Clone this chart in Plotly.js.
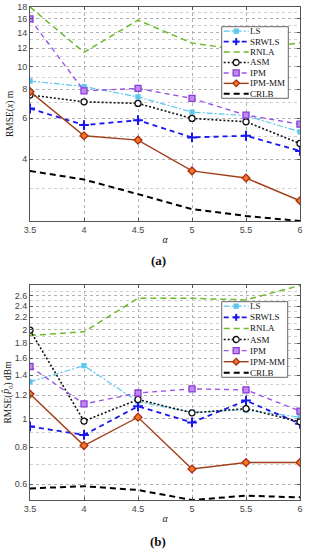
<!DOCTYPE html>
<html><head><meta charset="utf-8">
<script src="https://cdn.plot.ly/plotly-3.0.1.min.js"></script>
<style>html,body{margin:0;padding:0;background:#fff}#chart{width:309px;height:550px}</style>
</head><body><div id="chart"></div>
<script>
// ---- data ----
const alpha = [3.5, 4, 4.5, 5, 5.5, 6];
const seriesNames = ['LS', 'SRWLS', 'RNLA', 'ASM', 'IPM', 'IPM-MM', 'CRLB'];

// (a) RMSE(x) in m
const lsA     = [8.66, 8.2, 7.4, 6.37, 6.15, 5.24];
const srwlsA  = [6.6, 5.6, 5.88, 4.96, 5.04, 4.34];
const rnlaA   = [18.0, 11.5, 15.8, 12.6, 11.7, 12.65];
const asmA    = [7.54, 7.05, 6.94, 5.98, 5.79, 4.67];
const ipmA    = [16.0, 7.86, 8.05, 7.29, 6.18, 5.65];
const ipmmmA  = [7.8, 5.04, 4.83, 3.56, 3.32, 2.65];
const crlbA   = [3.56, 3.27, 2.83, 2.44, 2.28, 2.17];

// (b) RMSE(P0) in dBm
const lsB     = [1.33, 1.51, 1.14, 1.05, 1.07, 1.01];
const srwlsB  = [0.94, 0.88, 1.10, 0.97, 1.15, 0.96];
const rnlaB   = [1.91, 1.965, 2.55, 2.55, 2.52, 2.82];
const asmB    = [1.99, 0.98, 1.16, 1.045, 1.08, 0.975];
const ipmB    = [1.50, 1.12, 1.22, 1.26, 1.25, 1.06];
const ipmmmB  = [1.21, 0.81, 1.01, 0.675, 0.71, 0.71];
const crlbB   = [0.58, 0.59, 0.573, 0.53, 0.548, 0.541];

// axis ticks
const xTicks = [3.5, 4, 4.5, 5, 5.5, 6];
const yTicksA = [4, 6, 8, 10, 12, 14, 16, 18];
const yMinorA = [3, 5, 7, 9, 11, 13, 15, 17];
const yTicksB = [0.6, 0.8, 1, 1.2, 1.4, 1.6, 1.8, 2, 2.2, 2.4, 2.6];
const yMinorB = [0.7, 0.9, 1.1, 1.3, 1.5, 1.7, 1.9, 2.1, 2.3, 2.5, 2.7];
const yRangeA = [2.17, 18];
const yRangeB = [0.53, 2.83];

const dataA = [lsA, srwlsA, rnlaA, asmA, ipmA, ipmmmA, crlbA];
const dataB = [lsB, srwlsB, rnlaB, asmB, ipmB, ipmmmB, crlbB];

// ---- styles ----
const styles = {
  'LS':     {color:'#5cc8ee', width:1.2, dash:'6px,2px,2px,2px', symbol:'square', msize:4, mcolor:'#5cc8ee', mline:'#5cc8ee'},
  'SRWLS':  {color:'#1818ee', width:1.8, dash:'5px,4px', symbol:'cross-thin-open', msize:7, mcolor:'#1818ee', mline:'#1818ee'},
  'RNLA':   {color:'#6cbb2a', width:1.5, dash:'6px,4px', symbol:null},
  'ASM':    {color:'#111111', width:1.6, dash:'2px,2px', symbol:'circle', msize:6, mcolor:'#ffffff', mline:'#111111'},
  'IPM':    {color:'#9b55e6', width:1.4, dash:'5px,4px', symbol:'square', msize:6, mcolor:'#c08af2', mline:'#8a3cd6'},
  'IPM-MM': {color:'#a0401a', width:1.4, dash:'solid', symbol:'diamond', msize:6, mcolor:'#ee7a2a', mline:'#b02a10'},
  'CRLB':   {color:'#000000', width:2, dash:'6px,4px', symbol:null}
};

const W = 309, H = 550, ML = 30, MR = 9, MT = 7, MB = 50;
const pw = W - ML - MR, ph = H - MT - MB;
const px2x = p => (p - ML) / pw;
const py2y = p => (H - MB - p) / ph;

function makeTraces(sets, xa, ya) {
  return seriesNames.map((n, i) => {
    const s = styles[n];
    const t = {
      x: alpha, y: sets[i], xaxis: xa, yaxis: ya, name: n, showlegend: false,
      type: 'scatter', mode: s.symbol ? 'lines+markers' : 'lines',
      line: {color: s.color, width: s.width, dash: s.dash}, hoverinfo: 'skip'
    };
    if (s.symbol) t.marker = {symbol: s.symbol, size: s.msize, color: s.mcolor, line: {color: s.mline, width: s.symbol === 'cross-thin-open' ? 2 : 1.3}};
    return t;
  });
}

const traces = makeTraces(dataA, 'x', 'y').concat(makeTraces(dataB, 'x2', 'y2'));

const tickFont = {family: 'Liberation Sans, Arial, sans-serif', size: 9, color: '#444'};
const serif = 'Liberation Serif, Times New Roman, serif';

function xAxis(anchor) {
  return {
    anchor: anchor, range: [3.5, 6], tickvals: xTicks, ticktext: xTicks.map(String),
    showline: true, mirror: 'ticks', linecolor: '#555', linewidth: 1,
    ticks: 'inside', ticklen: 3, tickcolor: '#555',
    showgrid: true, gridcolor: '#b0b0b0', griddash: 'dot', gridwidth: 1,
    zeroline: false, tickfont: tickFont,
    title: {text: '<i>α</i>', font: {family: serif, size: 10, color: '#222'}, standoff: 2}
  };
}
function yAxis(anchor, domain, range, ticks, minor, title) {
  return {
    anchor: anchor, domain: domain, type: 'log',
    range: [Math.log10(range[0]), Math.log10(range[1])],
    tickvals: ticks, ticktext: ticks.map(String),
    showline: true, mirror: 'ticks', linecolor: '#555', linewidth: 1,
    ticks: 'inside', ticklen: 3, tickcolor: '#555',
    showgrid: true, gridcolor: '#b0b0b0', griddash: 'dot', gridwidth: 1,
    minor: {tickvals: minor, showgrid: true, gridcolor: '#cfcfcf', griddash: 'dot', gridwidth: 1, ticks: ''},
    zeroline: false, tickfont: tickFont,
    title: {text: title, font: {family: serif, size: 9.5, color: '#222'}, standoff: 1}
  };
}

const shapes = [];
const annotations = [];

function drawLegend(topPx, leftPx, rightPx, bottomPx) {
  shapes.push({type: 'rect', xref: 'paper', yref: 'paper', layer: 'above',
    x0: px2x(leftPx), x1: px2x(rightPx), y0: py2y(bottomPx), y1: py2y(topPx),
    line: {color: '#666', width: 1}, fillcolor: '#ffffff'});
  const step = (bottomPx - topPx - 9) / (seriesNames.length - 1);
  seriesNames.forEach((n, i) => {
    const s = styles[n];
    const cy = topPx + 4.5 + i * step;
    const x0 = leftPx + 2, x1 = leftPx + 27, cx = (x0 + x1) / 2;
    shapes.push({type: 'line', xref: 'paper', yref: 'paper', layer: 'above',
      x0: px2x(x0), x1: px2x(x1), y0: py2y(cy), y1: py2y(cy),
      line: {color: s.color, width: s.width, dash: s.dash}});
    if (s.symbol) {
      const r = s.msize / 2;
      const mk = {xref: 'paper', yref: 'paper', layer: 'above', fillcolor: s.mcolor,
        line: {color: s.mline, width: 1.3}};
      if (s.symbol === 'square') {
        shapes.push(Object.assign({type: 'rect', x0: px2x(cx - r), x1: px2x(cx + r), y0: py2y(cy + r), y1: py2y(cy - r)}, mk));
      } else if (s.symbol === 'circle') {
        shapes.push(Object.assign({type: 'circle', x0: px2x(cx - r), x1: px2x(cx + r), y0: py2y(cy + r), y1: py2y(cy - r)}, mk));
      } else if (s.symbol === 'diamond') {
        const rr = r * 1.1;
        const p = 'M' + px2x(cx) + ',' + py2y(cy - rr) + ' L' + px2x(cx + rr) + ',' + py2y(cy) +
          ' L' + px2x(cx) + ',' + py2y(cy + rr) + ' L' + px2x(cx - rr) + ',' + py2y(cy) + ' Z';
        shapes.push(Object.assign({type: 'path', path: p}, mk));
      } else {
        const ln = {color: s.mline, width: 2};
        shapes.push({type: 'line', xref: 'paper', yref: 'paper', layer: 'above', x0: px2x(cx - r), x1: px2x(cx + r), y0: py2y(cy), y1: py2y(cy), line: ln});
        shapes.push({type: 'line', xref: 'paper', yref: 'paper', layer: 'above', x0: px2x(cx), x1: px2x(cx), y0: py2y(cy - r), y1: py2y(cy + r), line: ln});
      }
    }
    annotations.push({text: n, xref: 'paper', yref: 'paper', x: px2x(x1 + 0.5), y: py2y(cy),
      xanchor: 'left', yanchor: 'middle', showarrow: false, borderpad: 0,
      font: {family: serif, size: 9, color: '#111'}});
  });
}

drawLegend(26.7, 221.7, 288.3, 98.3);
drawLegend(301.7, 221.7, 287.7, 377.3);

annotations.push({text: '<b>(a)</b>', xref: 'paper', yref: 'paper', x: px2x(158.5), y: py2y(260),
  xanchor: 'center', yanchor: 'middle', showarrow: false, font: {family: serif, size: 13, color: '#111'}});
annotations.push({text: '<b>(b)</b>', xref: 'paper', yref: 'paper', x: px2x(157.5), y: py2y(541.5),
  xanchor: 'center', yanchor: 'middle', showarrow: false, font: {family: serif, size: 13, color: '#111'}});

const layout = {
  width: W, height: H,
  margin: {l: ML, r: MR, t: MT, b: MB, pad: 0},
  paper_bgcolor: '#fff', plot_bgcolor: '#fff',
  showlegend: false,
  xaxis: xAxis('y'),
  yaxis: yAxis('x', [py2y(221), 1], yRangeA, yTicksA, yMinorA, 'RMSE(<i>x</i>) m'),
  xaxis2: xAxis('y2'),
  yaxis2: yAxis('x2', [0, py2y(285)], yRangeB, yTicksB, yMinorB, 'RMSE(<i>P̂</i><sub>0</sub>) dBm'),
  shapes: shapes,
  annotations: annotations
};

Plotly.newPlot('chart', traces, layout, {staticPlot: true, displayModeBar: false});
</script>
</body></html>
